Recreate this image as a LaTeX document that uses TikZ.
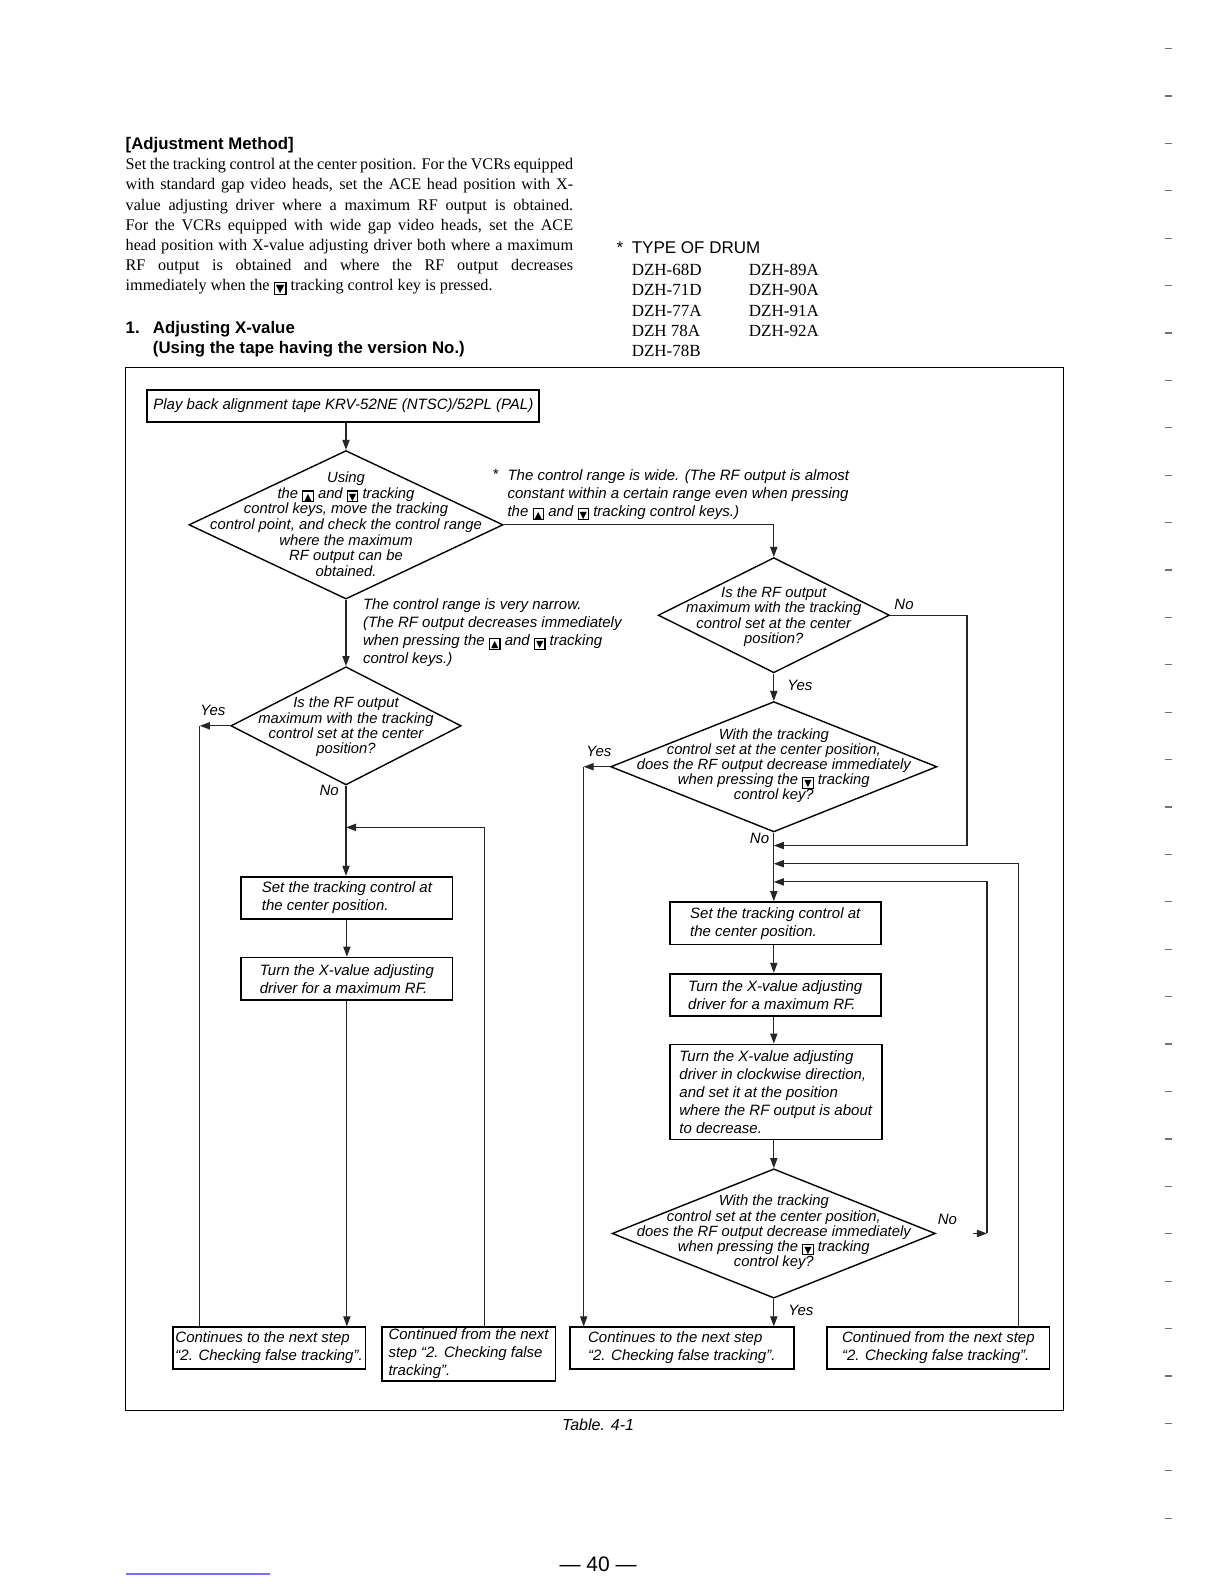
\documentclass[tikz,border=0pt]{standalone}
\usepackage{fontspec}
\setmainfont{Liberation Serif}
\setsansfont{Liberation Sans}
\newfontfamily\symf{DejaVu Sans}
\usetikzlibrary{shapes.geometric,arrows.meta,calc}
\newcommand\pxu{0.505pt}
\newcommand\fcf{\sffamily\itshape\fontsize{7.5}{9}\selectfont}
\newcommand\fdf{\sffamily\itshape\fontsize{7.4}{7.6}\selectfont}
\newcommand\fdfa{\sffamily\itshape\fontsize{7.4}{7.8}\selectfont}
\newcommand\bodyf{\rmfamily\fontsize{8.1}{10.1}\selectfont}
\newcommand\headf{\sffamily\bfseries\fontsize{8.4}{10}\selectfont}
\newcommand\drumf{\rmfamily\fontsize{8.5}{10}\selectfont}
\newcommand\keyb[2]{\raisebox{-0.9pt}{\setlength{\fboxsep}{0.5pt}\setlength{\fboxrule}{0.55pt}\fbox{\symf\fontsize{#1}{#1}\selectfont\raisebox{0pt}[0.8\dimexpr #1pt\relax][0pt]{#2}}}}
\newcommand\upk{\keyb{4.8}{▲}}
\newcommand\dnk{\keyb{4.8}{▼}}
\newcommand\dnkb{\keyb{5.6}{▼}}
\newcommand\jl[1]{\hbox to 223.7pt{#1}}
\tikzset{
  box/.style={draw, line width=0.9pt, inner sep=0pt, align=left, font=\fcf, anchor=north west},
  dia/.style={draw, diamond, line width=0.7pt, inner sep=0pt},
  dtxt/.style={align=center, font=\fdf, inner sep=0pt},
  lbl/.style={font=\fcf, inner sep=0pt, anchor=base west},
  arr/.style={line width=0.55pt, black!85, -{Triangle[length=5pt,width=3.6pt]}},
  con/.style={line width=0.55pt, black!85},
  plain/.style={inner sep=0pt, anchor=base west}
}
\begin{document}
\begin{tikzpicture}[x=0.505pt,y=-0.505pt]
\useasboundingbox (0,0) rectangle (1212,1568);
\fill[white] (0,0) rectangle (1212,1568);

% ---------- header text (multi-line nodes: base = last line) ----------
\node[plain, font=\headf] (h1) at (124,148) {[Adjustment Method]};
\node[plain, font=\bodyf, align=left] (body) at (124,288) {%
\jl{Set the tracking control at the center position. For the VCRs equipped}\\
\jl{with standard gap video heads, set the ACE head position with X-}\\
\jl{value adjusting driver where a maximum RF output is obtained.}\\
\jl{For the VCRs equipped with wide gap video heads, set the ACE}\\
\jl{head position with X-value adjusting driver both where a maximum}\\
\jl{RF output is obtained and where the RF output decreases}\\
immediately when the \dnkb{} tracking control key is pressed.};
\node[plain, font=\headf] (h2n) at (124,330) {1.};
\node[plain, font=\headf] (h2) at (151,330) {Adjusting X-value};
\node[plain, font=\headf] (h3) at (151,350) {(Using the tape having the version No.)};

\node[plain, font=\sffamily\fontsize{8.5}{10}\selectfont] (ast) at (610,251) {*};
\node[plain, font=\sffamily\fontsize{8.5}{10}\selectfont] (drum) at (625,251) {TYPE OF DRUM};
\node[plain, font=\drumf] (z1) at (625,273) {DZH-68D};
\node[plain, font=\drumf] (z2) at (625,293) {DZH-71D};
\node[plain, font=\drumf] (z3) at (625,313) {DZH-77A};
\node[plain, font=\drumf] (z4) at (625,333) {DZH 78A};
\node[plain, font=\drumf] (z5) at (625,353) {DZH-78B};
\node[plain, font=\drumf] (z6) at (741,273) {DZH-89A};
\node[plain, font=\drumf] (z7) at (741,293) {DZH-90A};
\node[plain, font=\drumf] (z8) at (741,313) {DZH-91A};
\node[plain, font=\drumf] (z9) at (741,333) {DZH-92A};

% ---------- frame ----------
\draw[line width=0.7pt] (124,364) rectangle (1053,1396);

% ---------- boxes ----------
\node[box, minimum width=388*\pxu, minimum height=32*\pxu] (play) at (145,385) {Play back alignment tape KRV-52NE (NTSC)/52PL (PAL)};
\node[box, minimum width=209*\pxu, minimum height=42*\pxu] (s1) at (238,867) {Set the tracking control at\\the center position.};
\node[box, minimum width=209*\pxu, minimum height=42*\pxu] (t1) at (238,947) {Turn the X-value adjusting\\driver for a maximum RF.};
\node[box, minimum width=209*\pxu, minimum height=42*\pxu] (s2) at (662,892) {Set the tracking control at\\the center position.};
\node[box, minimum width=209*\pxu, minimum height=42*\pxu] (t2) at (662,963) {Turn the X-value adjusting\\driver for a maximum RF.};
\node[box, minimum width=210*\pxu, minimum height=94*\pxu] (t3) at (662,1033) {Turn the X-value adjusting\\driver in clockwise direction,\\and set it at the position\\where the RF output is about\\to decrease.};
\node[box, minimum width=191*\pxu, minimum height=41*\pxu] (ba) at (170,1313) {Continues to the next step\\“2. Checking false tracking”.};
\node[box, minimum width=172*\pxu, minimum height=53*\pxu] (bb) at (377,1313) {Continued from the next\\step “2. Checking false\\tracking”.};
\node[box, minimum width=222*\pxu, minimum height=41*\pxu] (bc) at (563,1313) {Continues to the next step\\“2. Checking false tracking”.};
\node[box, minimum width=220*\pxu, minimum height=41*\pxu] (bd) at (818,1313) {Continued from the next step\\“2. Checking false tracking”.};

% ---------- diamonds ----------
\node[dia, minimum width=311*\pxu, minimum height=147*\pxu] (d1) at (342.5,519.5) {};
\node[dtxt, font=\fdfa] (d1t) at (342.5,519) {Using\\the \upk{} and \dnk{} tracking\\control keys, move the tracking\\control point, and check the control range\\where the maximum\\RF output can be\\obtained.};
\node[dia, minimum width=229*\pxu, minimum height=114*\pxu] (d2) at (766,609) {};
\node[dtxt] (d2t) at (766,610.5) {Is the RF output\\maximum with the tracking\\control set at the center\\position?};
\node[dia, minimum width=228*\pxu, minimum height=117*\pxu] (dL) at (342.5,718.5) {};
\node[dtxt] (dLt) at (342.5,719.5) {Is the RF output\\maximum with the tracking\\control set at the center\\position?};
\node[dia, minimum width=323*\pxu, minimum height=129*\pxu] (d3) at (766,759) {};
\node[dtxt] (d3t) at (766,758) {With the tracking\\control set at the center position,\\does the RF output decrease immediately\\when pressing the \dnk{} tracking\\control key?};
\node[dia, minimum width=320*\pxu, minimum height=128*\pxu] (d4) at (766,1221) {};
\node[dtxt] (d4t) at (766,1220) {With the tracking\\control set at the center position,\\does the RF output decrease immediately\\when pressing the \dnk{} tracking\\control key?};

% ---------- notes ----------
\node[plain, font=\fcf] (wast) at (487,475) {*};
\node[plain, font=\fcf, align=left] (wide) at (502,511) {The control range is wide. (The RF output is almost\\constant within a certain range even when pressing\\the \upk{} and \dnk{} tracking control keys.)};
\node[plain, font=\fcf, align=left] (narrow) at (359,657) {The control range is very narrow.\\(The RF output decreases immediately\\when pressing the \upk{} and \dnk{} tracking\\control keys.)};

% ---------- labels ----------
\node[lbl] (l1) at (779,684) {Yes};
\node[lbl] (l2) at (885,603) {No};
\node[lbl] (l3) at (198,708) {Yes};
\node[lbl] (l4) at (316,787) {No};
\node[lbl] (l5) at (580,749) {Yes};
\node[lbl] (l6) at (742,835) {No};
\node[lbl] (l7) at (928,1212) {No};
\node[lbl] (l8) at (780,1302) {Yes};

% ---------- coordinates ----------
\coordinate (m1) at (766,837);
\coordinate (m2) at (766,855);
\coordinate (m3) at (766,873);
\coordinate (mL) at (342.5,819);
\coordinate (bbT) at (480,1313);
\coordinate (bdT) at (1008,1313);
\coordinate (n4s) at (963,1221);
\coordinate (n4) at (977,1221);

% ---------- connectors ----------
\draw[arr] (play.south -| d1.north) -- (d1.north);
\draw[arr] (d1.east) -| (d2.north);
\draw[arr] (d1.south) -- (dL.north);
\draw[arr] (d2.south) -- (d3.north);
\draw[arr] (d2.east) -- ++(76,0) |- (m1);
\draw[arr] (dL.west) -- ++(-30,0) coordinate (yL);
\draw[con] (yL) -- (yL |- ba.north);
\draw[arr] (dL.south) -- (dL.south |- s1.north);
\draw[arr] (bbT) |- (mL);
\draw[arr] (s1.south) -- (s1.south |- t1.north);
\draw[arr] (t1.south) -- (t1.south |- ba.north);
\draw[arr] (d3.west) -- ++(-26,0) coordinate (yR);
\draw[arr] (yR) -- (yR |- bc.north);
\draw[arr] (d3.south) -- (d3.south |- s2.north);
\draw[arr] (s2.south -| d3.south) -- (d3.south |- t2.north);
\draw[arr] (t2.south -| d3.south) -- (d3.south |- t3.north);
\draw[arr] (t3.south -| d4.north) -- (d4.north);
\draw[arr] (d4.south) -- (d4.south |- bc.north);
\draw[arr] (bdT) |- (m2);
\draw[arr] (n4s) -- (n4);
\draw[arr] (n4) |- (m3);

% ---------- footer ----------
\node[font=\sffamily\itshape\fontsize{8}{10}\selectfont, inner sep=0pt] (tab) at (592,1410) {Table. 4-1};
\node[font=\sffamily\fontsize{10.5}{12}\selectfont, inner sep=0pt] (pg) at (592,1548) {— 40 —};
\draw[blue!55, line width=0.6pt] (125,1558) -- (267,1558);
\foreach \k in {0,...,31} {
  \draw[black!55, line width=0.6pt] (1153,{48+46.93*\k}) -- (1160,{48+46.93*\k});
}
\end{tikzpicture}
\end{document}
